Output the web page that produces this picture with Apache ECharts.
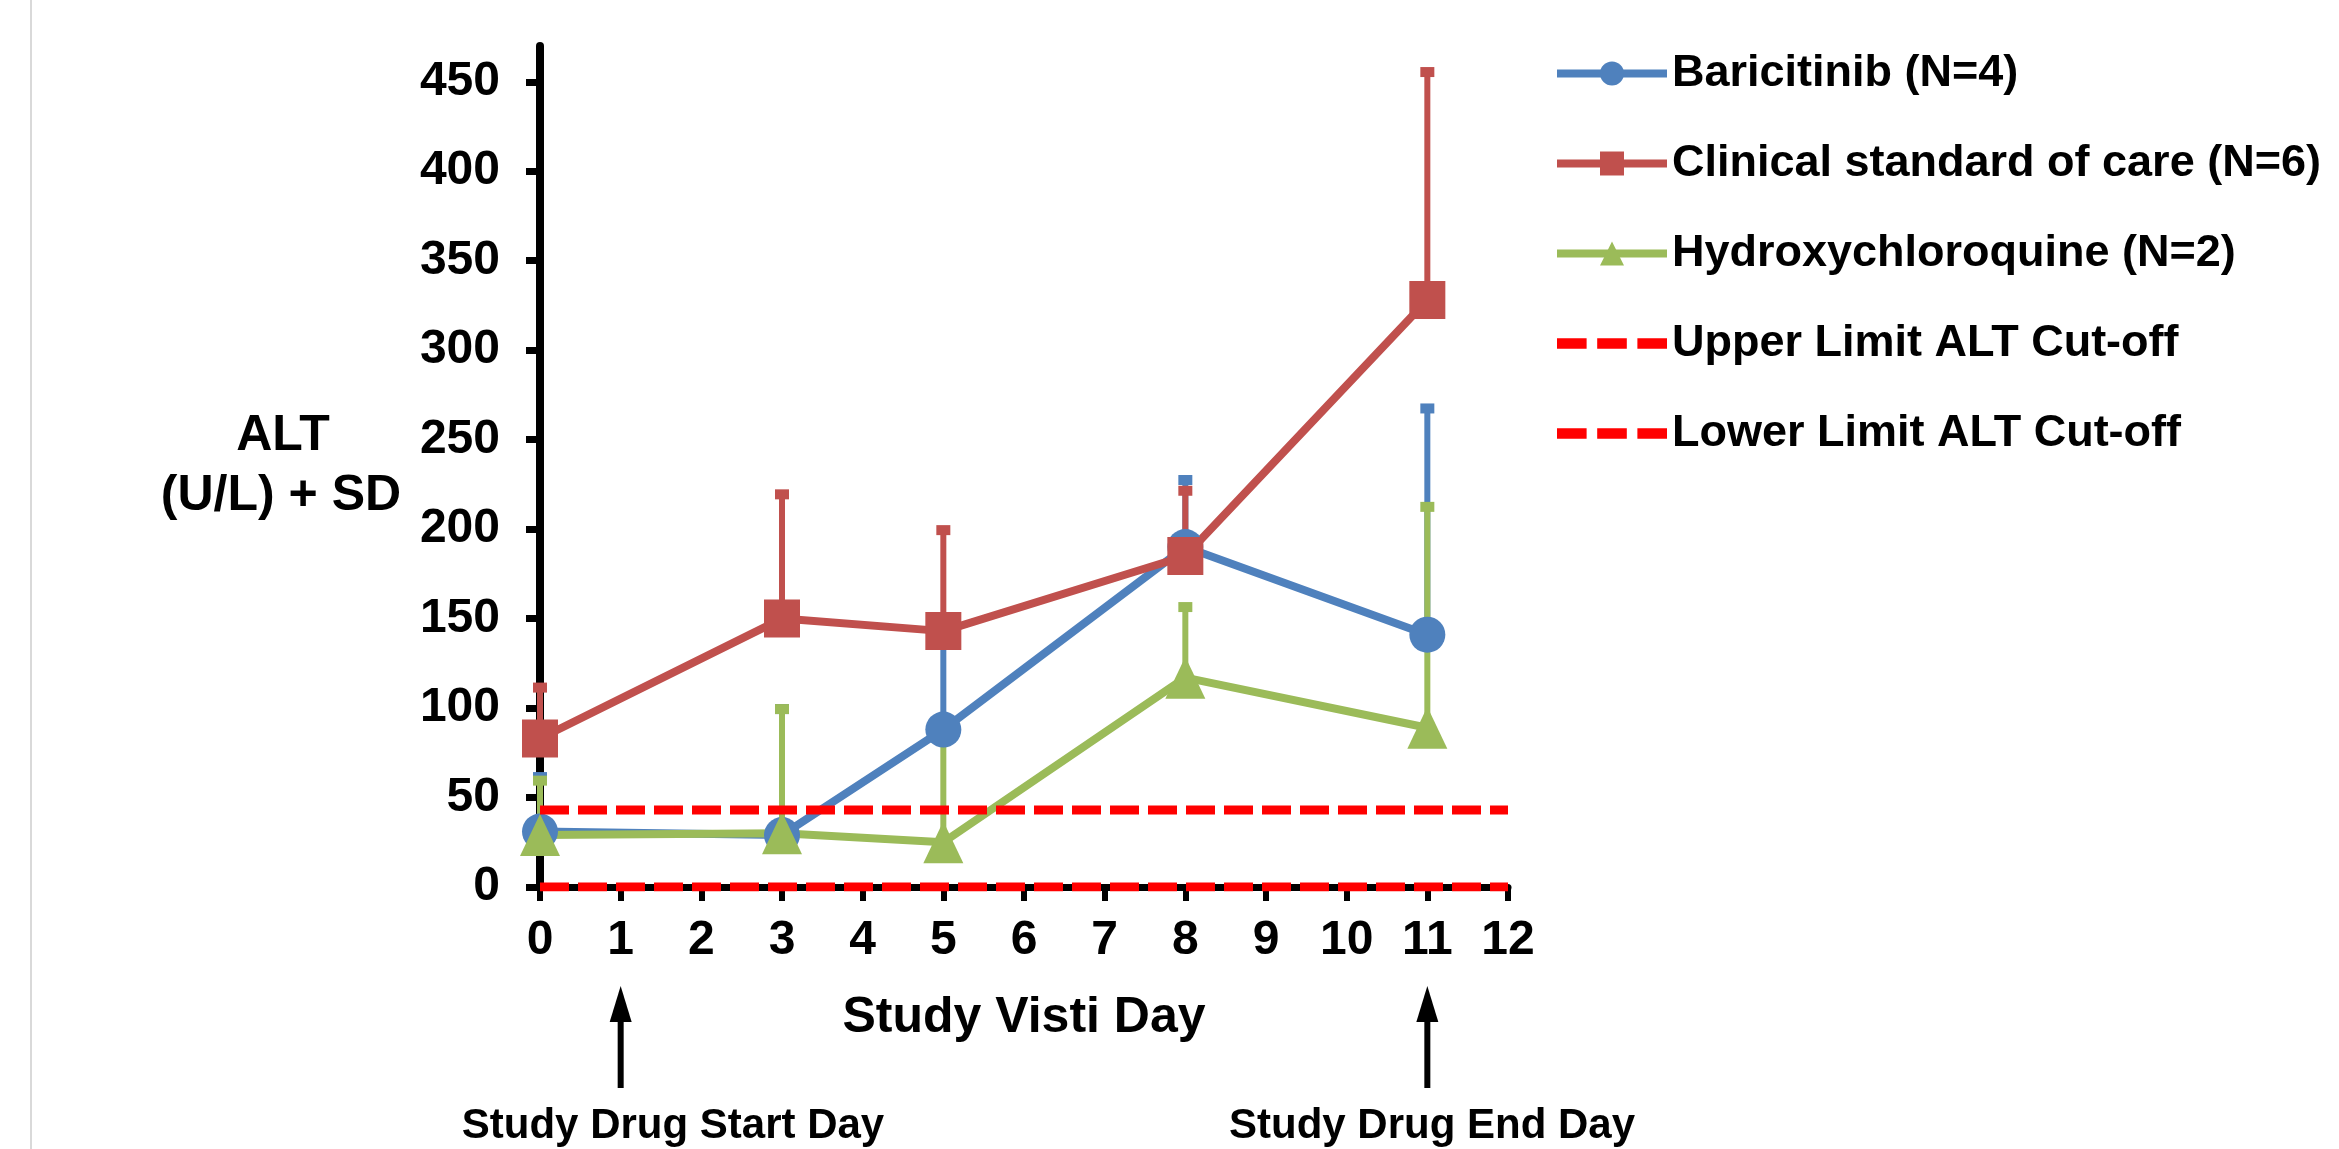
<!DOCTYPE html>
<html>
<head>
<meta charset="utf-8">
<script src="https://cdn.jsdelivr.net/npm/echarts@6/dist/echarts.min.js"></script>
<style>
  html, body { margin: 0; padding: 0; background: #ffffff; }
  #chart { width: 2339px; height: 1149px; }
</style>
</head>
<body>
<div id="chart"></div>
<script>
// Study visit days and ALT values (U/L), mean and SD per arm
const visitDays = [0, 3, 5, 8, 11];
const baricitinibMean = [31, 29, 88, 190, 141];
const baricitinibSD   = [31, 71, 52, 38, 127];
const socMean = [83, 150, 143, 185, 328];
const socSD   = [29, 70, 57, 37, 128];
const hcqMean = [29, 30, 25, 117, 89];
const hcqSD   = [31, 70, 60, 40, 124];

// ALT reference cut-offs
const upperLimitALT = 43;
const lowerLimitALT = 0;

// Axis ticks
const xTicks = [0, 1, 2, 3, 4, 5, 6, 7, 8, 9, 10, 11, 12];
const yTicks = [0, 50, 100, 150, 200, 250, 300, 350, 400, 450];

// Drug start / end days marked under the axis
const drugStartDay = 1;
const drugEndDay = 11;

const FONT = '"Liberation Sans", Arial, Helvetica, sans-serif';
const BLUE = '#4F81BD', RED = '#C0504D', GREEN = '#9BBB59', CUT = '#FF0000';
const DASH_ICON = 'path://M0,0h28v10h-28z M38,0h28v10h-28z M76,0h28v10h-28z';

function errorBars(name, color, mean, sd) {
  return {
    type: 'custom',
    name: name + ' SD',
    z: 1,
    silent: true,
    data: visitDays.map((d, i) => [d, mean[i], mean[i] + sd[i]]),
    encode: { x: 0, y: [1, 2] },
    renderItem(params, api) {
      const base = api.coord([api.value(0), api.value(1)]);
      const top = api.coord([api.value(0), api.value(2)]);
      return {
        type: 'group',
        children: [
          { type: 'line', shape: { x1: base[0], y1: base[1], x2: top[0], y2: top[1] },
            style: { stroke: color, lineWidth: 6 } },
          { type: 'rect', shape: { x: top[0] - 7, y: top[1] - 4, width: 14, height: 10 },
            style: { fill: color } }
        ]
      };
    }
  };
}

function meanLine(name, color, mean, symbol, size) {
  return {
    type: 'line',
    name: name,
    z: 3,
    data: visitDays.map((d, i) => [d, mean[i]]),
    symbol: symbol,
    symbolSize: size,
    showAllSymbol: true,
    lineStyle: { color: color, width: 8 },
    itemStyle: { color: color },
    emphasis: { disabled: true }
  };
}

function cutLine(name, value) {
  return {
    type: 'line',
    name: name,
    z: 5,
    data: [[xTicks[0], value], [xTicks[xTicks.length - 1], value]],
    symbol: 'none',
    lineStyle: { color: CUT, width: 9, type: [29, 9] },
    itemStyle: { color: CUT },
    emphasis: { disabled: true }
  };
}

const names = [
  'Baricitinib (N=4)',
  'Clinical standard of care (N=6)',
  'Hydroxychloroquine (N=2)',
  'Upper Limit ALT Cut-off',
  'Lower Limit ALT Cut-off'
];

const chart = echarts.init(document.getElementById('chart'), null, { renderer: 'canvas' });

chart.setOption({
  backgroundColor: '#ffffff',
  animation: false,
  grid: { left: 540, right: 831, top: 46, bottom: 262 },
  legend: {
    data: [
      { name: names[0] },
      { name: names[1] },
      { name: names[2] },
      { name: names[3], icon: DASH_ICON, itemStyle: { color: CUT } },
      { name: names[4], icon: DASH_ICON, itemStyle: { color: CUT } }
    ],
    orient: 'vertical',
    left: 1548,
    top: 46,
    itemWidth: 110,
    itemHeight: 30,
    itemGap: 45,
    lineStyle: { width: 8 },
    textStyle: { fontFamily: FONT, fontWeight: 'bold', fontSize: 45, color: '#000' },
    selectedMode: false
  },
  xAxis: {
    type: 'value',
    min: 0,
    max: 12,
    interval: 1,
    name: 'Study Visti Day',
    nameLocation: 'middle',
    nameGap: 106,
    nameTextStyle: { fontFamily: FONT, fontWeight: 'bold', fontSize: 50, color: '#000' },
    axisLine: { show: true, onZero: false, lineStyle: { color: '#000', width: 7 } },
    axisTick: { show: true, inside: false, length: 14, lineStyle: { color: '#000', width: 6 },
                customValues: xTicks },
    axisLabel: { fontFamily: FONT, fontWeight: 'bold', fontSize: 48, color: '#000', margin: 30,
                 customValues: xTicks },
    splitLine: { show: false }
  },
  yAxis: {
    type: 'value',
    min: 0,
    max: 470,
    axisLine: { show: true, lineStyle: { color: '#000', width: 8 } },
    axisTick: { show: true, inside: false, length: 14, lineStyle: { color: '#000', width: 7 },
                customValues: yTicks },
    axisLabel: { fontFamily: FONT, fontWeight: 'bold', fontSize: 48, color: '#000', margin: 40,
                 customValues: yTicks },
    splitLine: { show: false }
  },
  series: [
    errorBars(names[0], BLUE, baricitinibMean, baricitinibSD),
    errorBars(names[1], RED, socMean, socSD),
    errorBars(names[2], GREEN, hcqMean, hcqSD),
    meanLine(names[0], BLUE, baricitinibMean, 'circle', 36),
    meanLine(names[1], RED, socMean, 'rect', [36, 38]),
    meanLine(names[2], GREEN, hcqMean, 'triangle', [40, 42]),
    cutLine(names[3], upperLimitALT),
    cutLine(names[4], lowerLimitALT)
  ]
});

// Arrows under the axis marking the drug start and end days
function arrow(day) {
  const x = chart.convertToPixel({ xAxisIndex: 0 }, day);
  return [
    { type: 'line', shape: { x1: x, y1: 1088, x2: x, y2: 1015 },
      style: { stroke: '#000', lineWidth: 6 } },
    { type: 'polygon', shape: { points: [[x, 986], [x - 11, 1022], [x + 11, 1022]] },
      style: { fill: '#000' } }
  ];
}

chart.setOption({
  graphic: [
    { type: 'line', shape: { x1: 31, y1: 0, x2: 31, y2: 1149 },
      style: { stroke: '#d9d9d9', lineWidth: 2 } },
    { type: 'text', x: 283, y: 436,
      style: { text: 'ALT', fontFamily: FONT, fontWeight: 'bold', fontSize: 50, fill: '#000',
               align: 'center', verticalAlign: 'middle' } },
    { type: 'text', x: 281, y: 496,
      style: { text: '(U/L) + SD', fontFamily: FONT, fontWeight: 'bold', fontSize: 50, fill: '#000',
               align: 'center', verticalAlign: 'middle' } },
    ...arrow(drugStartDay),
    ...arrow(drugEndDay),
    { type: 'text', x: 673, y: 1126,
      style: { text: 'Study Drug Start Day', fontFamily: FONT, fontWeight: 'bold', fontSize: 42,
               fill: '#000', align: 'center', verticalAlign: 'middle' } },
    { type: 'text', x: 1432, y: 1126,
      style: { text: 'Study Drug End Day', fontFamily: FONT, fontWeight: 'bold', fontSize: 42,
               fill: '#000', align: 'center', verticalAlign: 'middle' } }
  ]
});
</script>
</body>
</html>
